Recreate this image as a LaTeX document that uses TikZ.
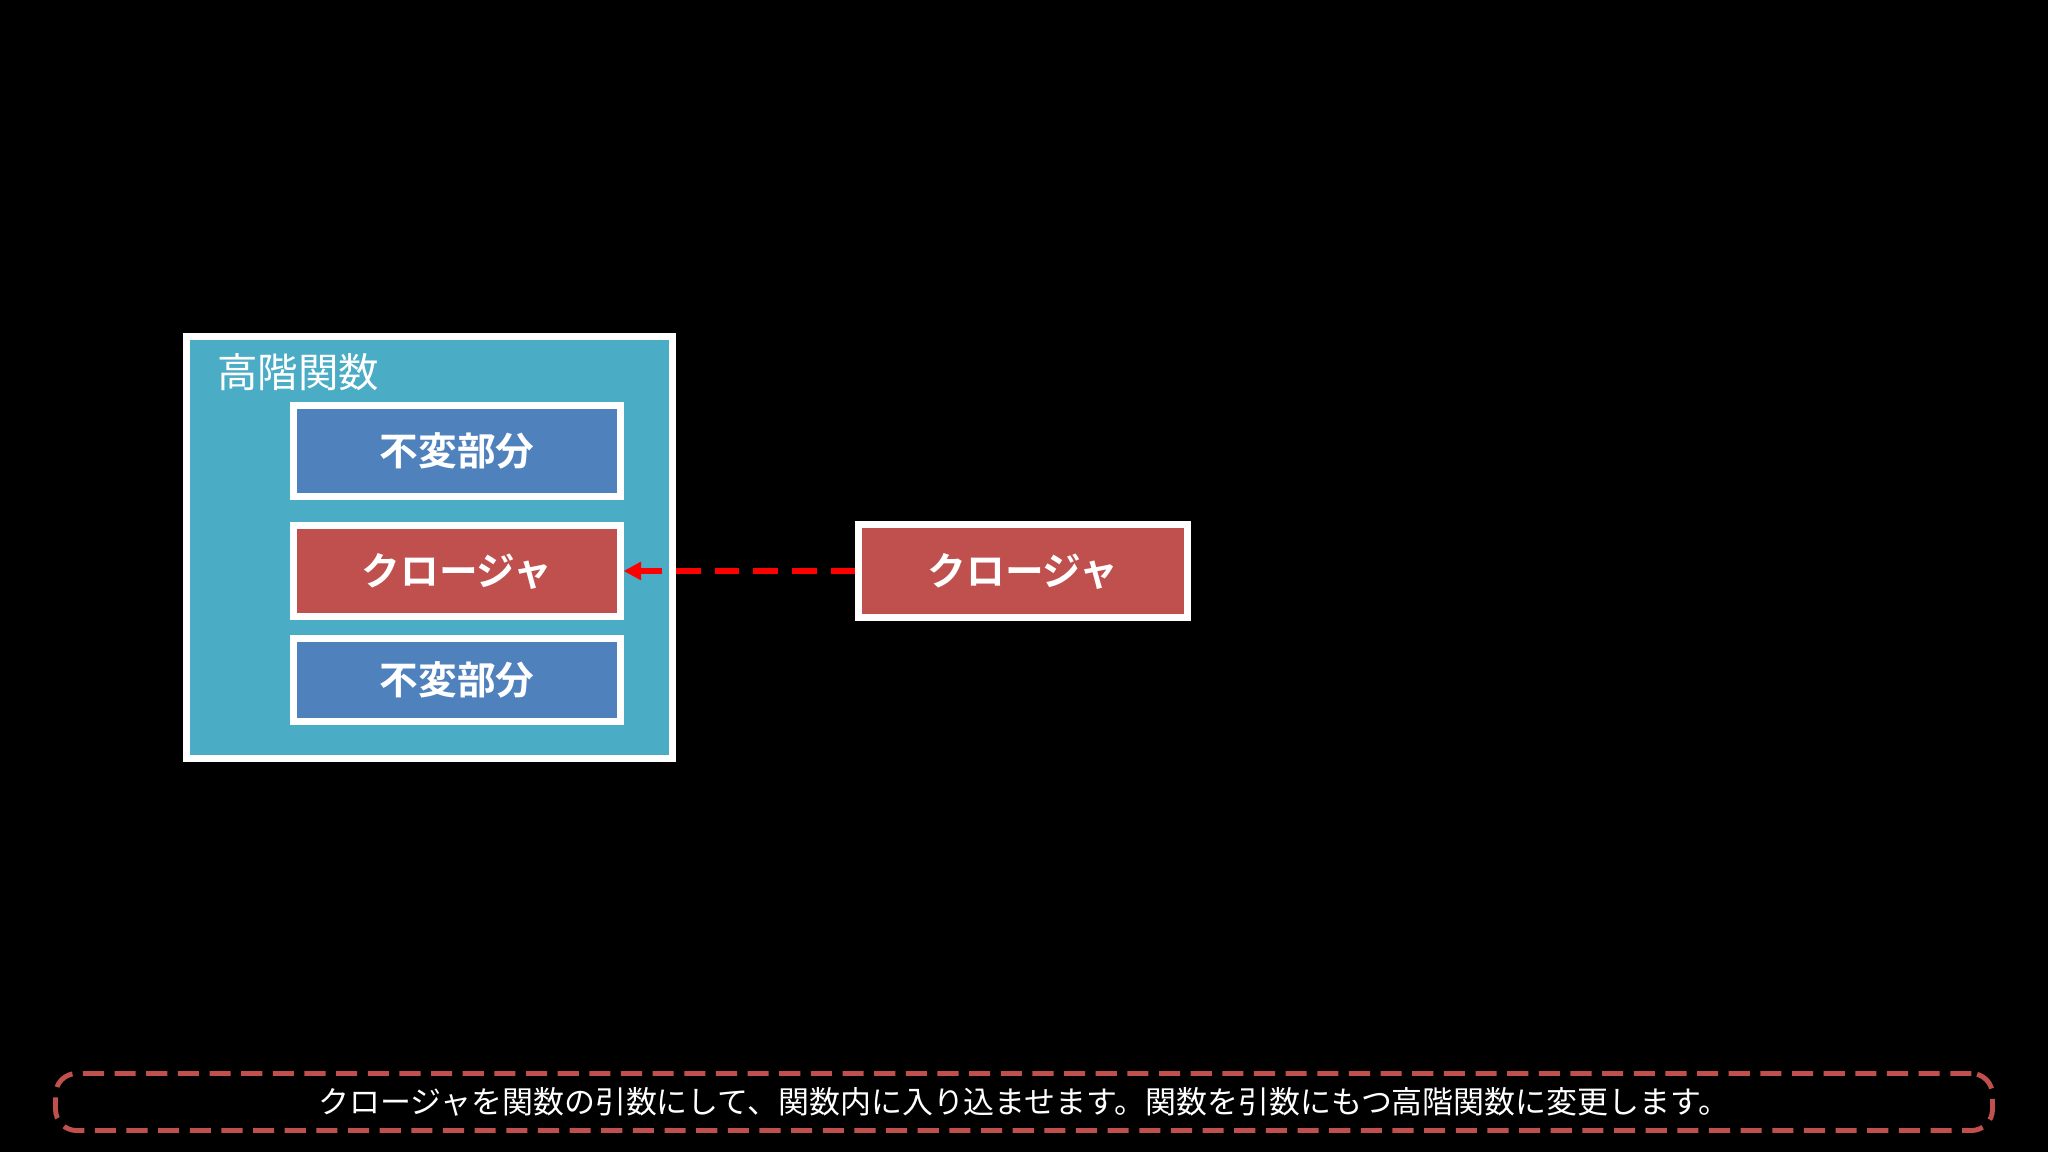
\documentclass[tikz,border=0pt]{standalone}
\usepackage{fontspec}
\setmainfont{Noto Sans CJK JP}
\newfontfamily\cjkb{Noto Sans CJK JP Bold}
\usetikzlibrary{arrows.meta}
\definecolor{teal}{HTML}{4BACC6}
\definecolor{blu}{HTML}{4F81BD}
\definecolor{rd}{HTML}{C0504D}
\begin{document}
\begin{tikzpicture}[x=0.01cm,y=-0.01cm,
  part/.style={draw=white,line width=2pt,minimum width=326\pgflinewidth,text=white,font=\cjkb\fontsize{11}{13}\selectfont},
  ]
\fill[black] (0,0) rectangle (2048,1152);
\useasboundingbox (0,0) rectangle (2048,1152);
\node[draw=white,line width=2pt,fill=teal,minimum width=486*0.2845pt,minimum height=422*0.2845pt,anchor=north west,inner sep=0] (outer) at (183,333) {};
\node[anchor=west,text=white,font=\fontsize{11.5}{13}\selectfont] (title) at (205,372) {高階関数};
\node[part,fill=blu,minimum width=326*0.2845pt,minimum height=90*0.2845pt,inner sep=0] (b1) at (457,451) {不変部分};
\node[part,fill=rd,minimum width=326*0.2845pt,minimum height=90*0.2845pt,inner sep=0] (b2) at (457,571) {クロージャ};
\node[part,fill=blu,minimum width=326*0.2845pt,minimum height=83*0.2845pt,inner sep=0] (b3) at (457,680) {不変部分};
\node[part,fill=rd,minimum width=328*0.2845pt,minimum height=93*0.2845pt,inner sep=0] (c) at (1023,571) {クロージャ};
\draw[red,line width=1.6pt,dash pattern=on 7pt off 4pt,-{Triangle[length=5pt,width=5pt]}] (c.west) -- (b2.east);
\node[draw=rd,line width=1.4pt,dash pattern=on 6pt off 3pt,rounded corners=6pt,minimum width=1936*0.2845pt,minimum height=57*0.2845pt,inner sep=0,text=white,font=\fontsize{8.8}{10}\selectfont] (cap) at (1024,1102) {クロージャを関数の引数にして、関数内に入り込ませます。関数を引数にもつ高階関数に変更します。};
\end{tikzpicture}
\end{document}
